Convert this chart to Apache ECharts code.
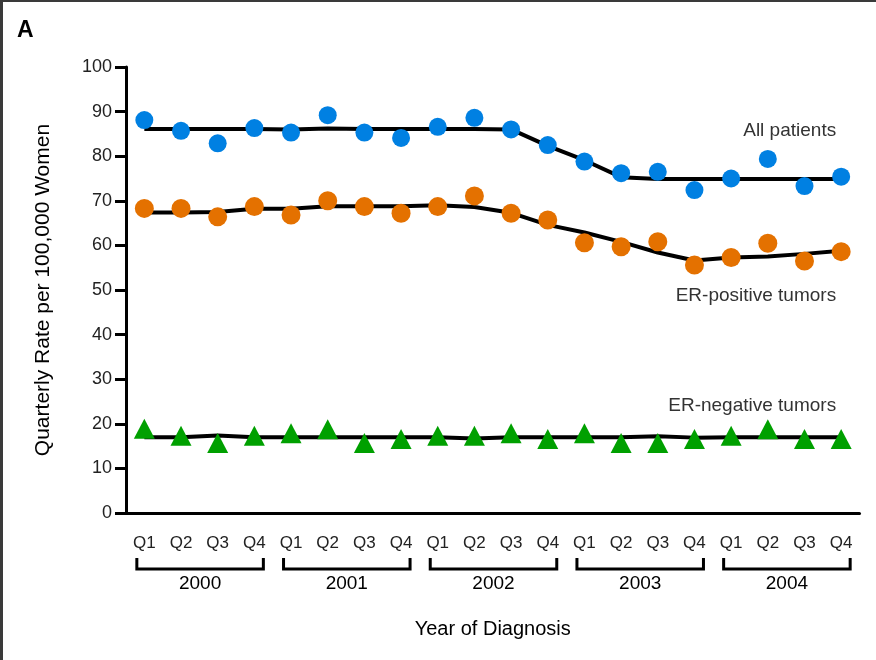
<!DOCTYPE html>
<html>
<head>
<meta charset="utf-8">
<script src="https://cdn.jsdelivr.net/npm/echarts@6/dist/echarts.min.js"></script>
<style>
html,body{margin:0;padding:0;background:#fff;}
#frame{position:absolute;left:0;top:0;width:876px;height:660px;box-sizing:border-box;border-left:3px solid #3a3a3a;border-top:2px solid #3a3a3a;}
#chart{position:absolute;left:0;top:0;width:876px;height:660px;}
</style>
</head>
<body>
<div id="chart"></div>
<div id="frame"></div>
<script>
// ---- data ----
const years = ['2000', '2001', '2002', '2003', '2004'];
const quarters = ['Q1', 'Q2', 'Q3', 'Q4'];
const allPatients = [88.1, 85.7, 82.9, 86.3, 85.3, 89.2, 85.3, 84.1, 86.6, 88.6, 86.0, 82.5, 78.8, 76.2, 76.5, 72.4, 75.0, 79.4, 73.3, 75.4];
const allTrend    = [86.1, 86.1, 86.1, 86.1, 86.0, 86.2, 86.1, 86.1, 86.1, 86.1, 86.0, 82.3, 79.1, 75.3, 74.9, 74.9, 74.9, 74.9, 74.9, 74.9];
const erPositive  = [68.3, 68.3, 66.4, 68.7, 66.8, 70.0, 68.7, 67.2, 68.7, 71.1, 67.2, 65.7, 60.6, 59.7, 60.8, 55.6, 57.3, 60.5, 56.5, 58.6];
const erPosTrend  = [67.4, 67.4, 67.5, 68.2, 68.2, 68.8, 68.8, 68.8, 69.0, 68.6, 67.3, 64.6, 62.9, 60.8, 58.4, 56.6, 57.3, 57.5, 58.1, 58.8];
const erNegative  = [18.9, 17.3, 15.7, 17.3, 17.9, 18.8, 15.7, 16.6, 17.3, 17.3, 17.9, 16.6, 17.9, 15.7, 15.7, 16.6, 17.3, 18.8, 16.6, 16.6];
const erNegTrend  = [17.0, 17.0, 17.4, 17.0, 17.0, 17.0, 17.0, 17.0, 17.0, 16.7, 17.0, 17.0, 17.0, 17.0, 17.2, 16.9, 17.0, 17.0, 17.0, 17.0];
const seriesNames = ['All patients', 'ER-positive tumors', 'ER-negative tumors'];
const seriesLabelAt = [85.6, 48.7, 24.0]; // y value where each in-plot label sits
const yTicks = [0, 10, 20, 30, 40, 50, 60, 70, 80, 90, 100];

const categories = [];
years.forEach(y => quarters.forEach(q => categories.push(y + ' ' + q)));

const FONT = 'Liberation Sans, Arial, sans-serif';
const chart = echarts.init(document.getElementById('chart'), null, {renderer: 'canvas'});

const trendStyle = {color: '#000', width: 4};
const option = {
  animation: false,
  backgroundColor: '#fff',
  title: {text: 'A', left: 12, top: 14, textStyle: {fontFamily: FONT, fontSize: 23, fontWeight: 'bold', color: '#000'}},
  grid: {left: 126, right: 16.5, top: 67, bottom: 147},
  xAxis: {
    type: 'category',
    data: categories,
    boundaryGap: true,
    name: 'Year of Diagnosis',
    nameLocation: 'middle',
    nameGap: 106,
    nameTextStyle: {fontFamily: FONT, fontSize: 20, color: '#000', verticalAlign: 'top'},
    axisLine: {lineStyle: {color: '#000', width: 3}},
    axisTick: {alignWithLabel: true, length: 11, lineStyle: {color: '#000', width: 3}},
    axisLabel: {interval: 0, margin: 22, fontFamily: FONT, fontSize: 17, color: '#222',
      formatter: v => v.split(' ')[1]}
  },
  yAxis: {
    type: 'value',
    min: yTicks[0], max: yTicks[yTicks.length - 1], interval: 10,
    name: 'Quarterly Rate per 100,000 Women',
    nameLocation: 'middle',
    nameRotate: 90,
    nameGap: 72,
    nameTextStyle: {fontFamily: FONT, fontSize: 21, color: '#000'},
    axisLine: {show: true, lineStyle: {color: '#000', width: 3}},
    axisTick: {show: true, length: 11, lineStyle: {color: '#000', width: 3}},
    axisLabel: {margin: 14, fontFamily: FONT, fontSize: 18, color: '#222'},
    splitLine: {show: false}
  },
  series: [
    {type: 'line', data: allTrend, symbol: 'none', lineStyle: trendStyle, z: 2},
    {type: 'line', data: erPosTrend, symbol: 'none', lineStyle: trendStyle, z: 2},
    {type: 'line', data: erNegTrend, symbol: 'none', lineStyle: trendStyle, z: 2},
    {type: 'scatter', name: seriesNames[0], data: allPatients, symbol: 'circle', symbolSize: 18,
      itemStyle: {color: '#0080e2', opacity: 1}, z: 5},
    {type: 'scatter', name: seriesNames[1], data: erPositive, symbol: 'circle', symbolSize: 19,
      itemStyle: {color: '#e47100', opacity: 1}, z: 5},
    {type: 'scatter', name: seriesNames[2], data: erNegative, symbol: 'triangle', symbolSize: [21, 20],
      itemStyle: {color: '#00a000', opacity: 1}, z: 5}
  ]
};
chart.setOption(option);

// ---- year brackets and in-plot labels, positioned from the axes ----
const graphics = [];
const axisY = chart.convertToPixel({yAxisIndex: 0}, 0);
const bracketY = axisY + 56;
years.forEach((yr, i) => {
  const x1 = chart.convertToPixel({xAxisIndex: 0}, categories[i * 4]) - 7.5;
  const x2 = chart.convertToPixel({xAxisIndex: 0}, categories[i * 4 + 3]) + 9;
  graphics.push({
    type: 'polyline',
    shape: {points: [[x1, bracketY - 11], [x1, bracketY], [x2, bracketY], [x2, bracketY - 11]]},
    style: {stroke: '#000', lineWidth: 3, fill: null}
  });
  graphics.push({
    type: 'text', x: (x1 + x2) / 2, y: bracketY + 15,
    style: {text: yr, fontFamily: FONT, fontSize: 19, fill: '#000', align: 'center', verticalAlign: 'middle'}
  });
});
const rightX = chart.convertToPixel({xAxisIndex: 0}, categories[categories.length - 1]) - 5;
seriesNames.forEach((nm, i) => {
  graphics.push({
    type: 'text', x: rightX, y: chart.convertToPixel({yAxisIndex: 0}, seriesLabelAt[i]),
    style: {text: nm, fontFamily: FONT, fontSize: 19, fill: '#333', align: 'right', verticalAlign: 'middle'}
  });
});
chart.setOption({graphic: graphics});
</script>
</body>
</html>
